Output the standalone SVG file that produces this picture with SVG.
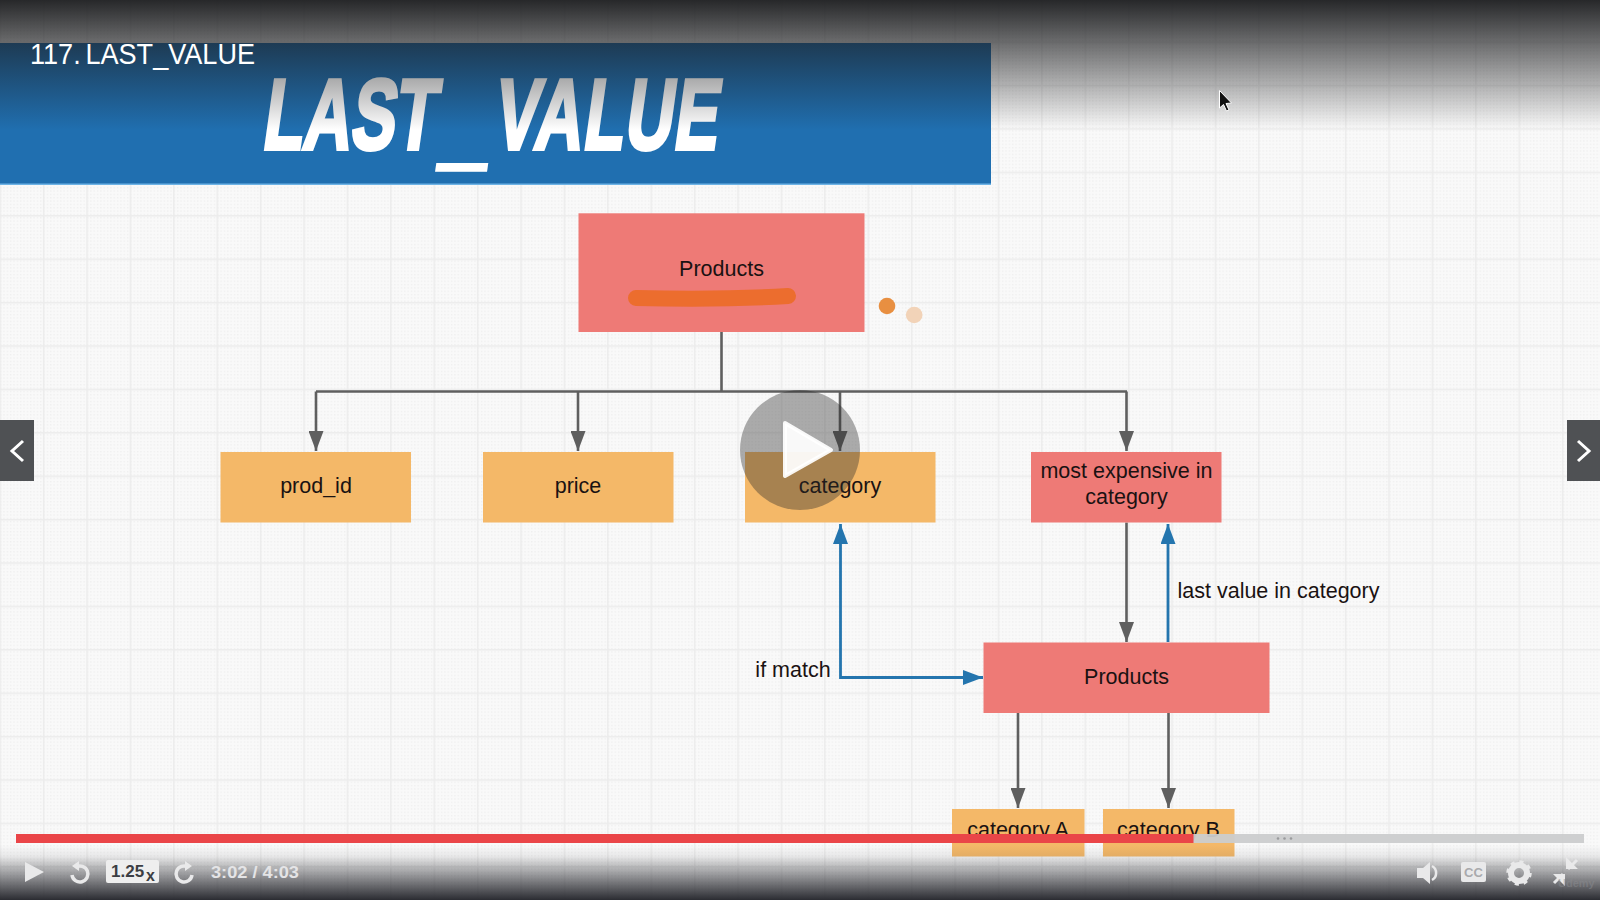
<svg xmlns="http://www.w3.org/2000/svg" width="1600" height="900" viewBox="0 0 1600 900">
<style>
text{font-family:"Liberation Sans",Arial,sans-serif}
.o{fill:#f4b868}.r{fill:#ee7a76}
.l{font-size:21.5px;fill:#1a1212;text-anchor:middle}
.e{fill:none;stroke:#5f5f5f;stroke-width:2.600}
.b{fill:none;stroke:#2475ae;stroke-width:2.800}
.ui{fill:#e9e9ea}
.uis{fill:none;stroke:#e9e9ea}
</style>
<defs>
<marker id="ag" markerUnits="userSpaceOnUse" markerWidth="20" markerHeight="15" refX="20" refY="7.5" orient="auto" viewBox="0 0 20 15"><path d="M0 0L20 7.5L0 15Z" fill="#5f5f5f"/></marker>
<marker id="ab" markerUnits="userSpaceOnUse" markerWidth="20" markerHeight="15" refX="20" refY="7.5" orient="auto" viewBox="0 0 20 15"><path d="M0 0L20 7.5L0 15Z" fill="#2475ae"/></marker>
<marker id="abs" markerUnits="userSpaceOnUse" markerWidth="20" markerHeight="15" refX="0" refY="7.5" orient="auto" viewBox="0 0 20 15"><path d="M20 0L0 7.5L20 15Z" fill="#2475ae"/></marker>
<pattern id="dots" width="3.34" height="3.34" patternUnits="userSpaceOnUse"><rect width="3.34" height="3.34" fill="#f9f9f9"/><rect width="1.3" height="1.3" fill="#efefef"/></pattern>
<pattern id="grid" width="43.4" height="43.4" x="-0.5" y="-1.9" patternUnits="userSpaceOnUse"><path d="M0 0H43.4M0 0V43.4" stroke="#ececec" stroke-width="3" fill="none"/></pattern>
<linearGradient id="top" x1="0" y1="0" x2="0" y2="1"><stop offset="0" stop-color="#1c1d1f" stop-opacity=".95"/><stop offset="1" stop-color="#1c1d1f" stop-opacity="0"/></linearGradient>
<linearGradient id="bot" x1="0" y1="0" x2="0" y2="1"><stop offset="0" stop-color="#2b2c32" stop-opacity="0"/><stop offset=".2" stop-color="#2b2c32" stop-opacity=".08"/><stop offset="1" stop-color="#2b2c32" stop-opacity="1"/></linearGradient>
</defs>
<rect width="1600" height="900" fill="url(#dots)"/>
<rect width="1600" height="900" fill="url(#grid)"/>

<g id="banner">
<rect x="0" y="43" width="991" height="141" fill="#206fb0"/>
<rect x="0" y="183.500" width="991" height="1.500" fill="#6fb4e6"/>
<text id="banner-title" transform="translate(261,148.500) skewX(-8) scale(.66,1)" font-size="100" font-weight="700" fill="#fff" stroke="#fff" stroke-width="4">LAST<tspan x="272" font-size="130" stroke-width="4" dy="5">_</tspan><tspan x="350" dy="-5" letter-spacing="2">VALUE</tspan></text>
</g>

<g id="connectors">
<path class="e" d="M721.500 332V391.500"/>
<path class="e" d="M316 391.500H1127"/>
<path class="e" d="M316 391.500V451" marker-end="url(#ag)"/>
<path class="e" d="M578 391.500V451" marker-end="url(#ag)"/>
<path class="e" d="M840 391.500V451" marker-end="url(#ag)"/>
<path class="e" d="M1126.500 391.500V451" marker-end="url(#ag)"/>
<path class="e" d="M1126.500 522.500V642" marker-end="url(#ag)"/>
<path class="e" d="M1018 713V808" marker-end="url(#ag)"/>
<path class="e" d="M1168.500 713V808" marker-end="url(#ag)"/>
<path class="b" d="M1168 642V524" marker-end="url(#ab)"/>
<path class="b" d="M840.500 524V677.500H983" marker-start="url(#abs)" marker-end="url(#ab)"/>
</g>

<g id="n-products"><rect class="r" x="578.500" y="213.300" width="286" height="118.700"/><text class="l" x="721.500" y="276">Products</text></g>
<g id="n-prod-id"><rect class="o" x="220.500" y="452" width="190.500" height="70.500"/><text class="l" x="316" y="493">prod_id</text></g>
<g id="n-price"><rect class="o" x="483" y="452" width="190.500" height="70.500"/><text class="l" x="578" y="493">price</text></g>
<g id="n-category"><rect class="o" x="745" y="452" width="190.500" height="70.500"/><text class="l" x="840" y="493">category</text></g>
<g id="n-most"><rect class="r" x="1031" y="452" width="190.500" height="70.500"/><text class="l" x="1126.500" y="478">most expensive in</text><text class="l" x="1126.500" y="504">category</text></g>
<g id="n-products2"><rect class="r" x="983.500" y="642.500" width="286" height="70.500"/><text class="l" x="1126.500" y="684">Products</text></g>
<g id="n-cat-a"><rect class="o" x="952" y="809" width="132.500" height="47.500"/><text class="l" x="1018" y="837">category A</text></g>
<g id="n-cat-b"><rect class="o" x="1103" y="809" width="131.500" height="47.500"/><text class="l" x="1168.500" y="837">category B</text></g>

<g id="labels">
<text class="l" x="793" y="677">if match</text>
<text class="l" x="1278.500" y="598">last value in category</text>
</g>

<g id="annotation">
<path d="M636 298C680 299 740 299 788 296" fill="none" stroke="#ec6d2e" stroke-width="16" stroke-linecap="round"/>
<circle cx="887" cy="306" r="8.300" fill="#e88f41"/>
<circle cx="914.200" cy="315" r="8.300" fill="#f2d3b8"/>
</g>

<rect width="1600" height="130" fill="url(#top)"/>
<rect y="845" width="1600" height="55" fill="url(#bot)"/>
<text id="video-title" x="30" y="64" font-size="29" fill="#fff" word-spacing="-3" textLength="225" lengthAdjust="spacingAndGlyphs">117. LAST_VALUE</text>

<g id="player">
<circle cx="800" cy="450" r="60" fill="#2a2a2a" fill-opacity=".38"/>
<path d="M785 423L831 450L785 476Z" fill="#fff" fill-opacity=".93" stroke="#fff" stroke-opacity=".93" stroke-width="4" stroke-linejoin="round"/>
<rect x="0" y="420" width="34" height="61" fill="#4f5154"/>
<path d="M23 441L12 451L23 461" fill="none" stroke="#fff" stroke-width="3"/>
<rect x="1567" y="420" width="33" height="61" fill="#4f5154"/>
<path d="M1578 441L1589 451L1578 461" fill="none" stroke="#fff" stroke-width="3"/>
<path d="M1219.500 90.500V108L1223.500 104.500L1226.500 111L1229 110L1226 103.500L1231.500 103Z" fill="#111" stroke="#fff" stroke-width="1"/>

<rect x="16" y="834" width="1568" height="9" fill="#cbcccd" fill-opacity=".95"/>
<rect x="16" y="834" width="1177.500" height="9" fill="#ea4548"/>
<g fill="#9a9b9d"><circle cx="1278" cy="838.500" r="1.300"/><circle cx="1284.500" cy="838.500" r="1.300"/><circle cx="1291" cy="838.500" r="1.300"/></g>

<path class="ui" d="M25 862L44 872L25 882Z"/>
<path class="uis" stroke-width="3.500" d="M76 867A8 8 0 1 1 72 875"/><path class="ui" d="M79 861V871L72 866Z"/>
<rect x="106" y="860" width="53" height="23" rx="2" fill="#eeeeee"/>
<text x="111" y="877" font-size="17" font-weight="700" fill="#3c3e43">1.25</text>
<text x="146" y="881" font-size="16" font-weight="700" fill="#3c3e43">x</text>
<path class="uis" stroke-width="3.500" d="M188 867A8 8 0 1 0 192 875"/><path class="ui" d="M185 861V871L192 866Z"/>
<text x="211" y="878" font-size="17" font-weight="700" fill="#e4e4e6" textLength="88" lengthAdjust="spacingAndGlyphs">3:02 / 4:03</text>

<path class="ui" d="M1417 868H1423L1430 862V884L1423 878H1417Z"/>
<path class="uis" stroke-width="2.500" d="M1432 866A8 8 0 0 1 1432 880"/>
<rect x="1461" y="862" width="25" height="20" rx="2" fill="#e9e9ea"/>
<text x="1473.500" y="877" font-size="13" font-weight="700" fill="#a9aaad" text-anchor="middle">CC</text>
<circle cx="1519" cy="873" r="8" fill="none" stroke="#e9e9ea" stroke-width="6"/>
<circle cx="1519" cy="873" r="11" fill="none" stroke="#e9e9ea" stroke-width="3.500" stroke-dasharray="4 4.640"/>
<path class="uis" stroke-width="3" d="M1554 883L1563 874M1577 860L1568 869"/>
<path class="ui" d="M1553 874H1565V886ZM1578 869H1566V857Z"/>
<text x="1558" y="887" font-size="11" font-weight="700" fill="#8b8c90" fill-opacity=".5">Udemy</text>
</g>
</svg>
